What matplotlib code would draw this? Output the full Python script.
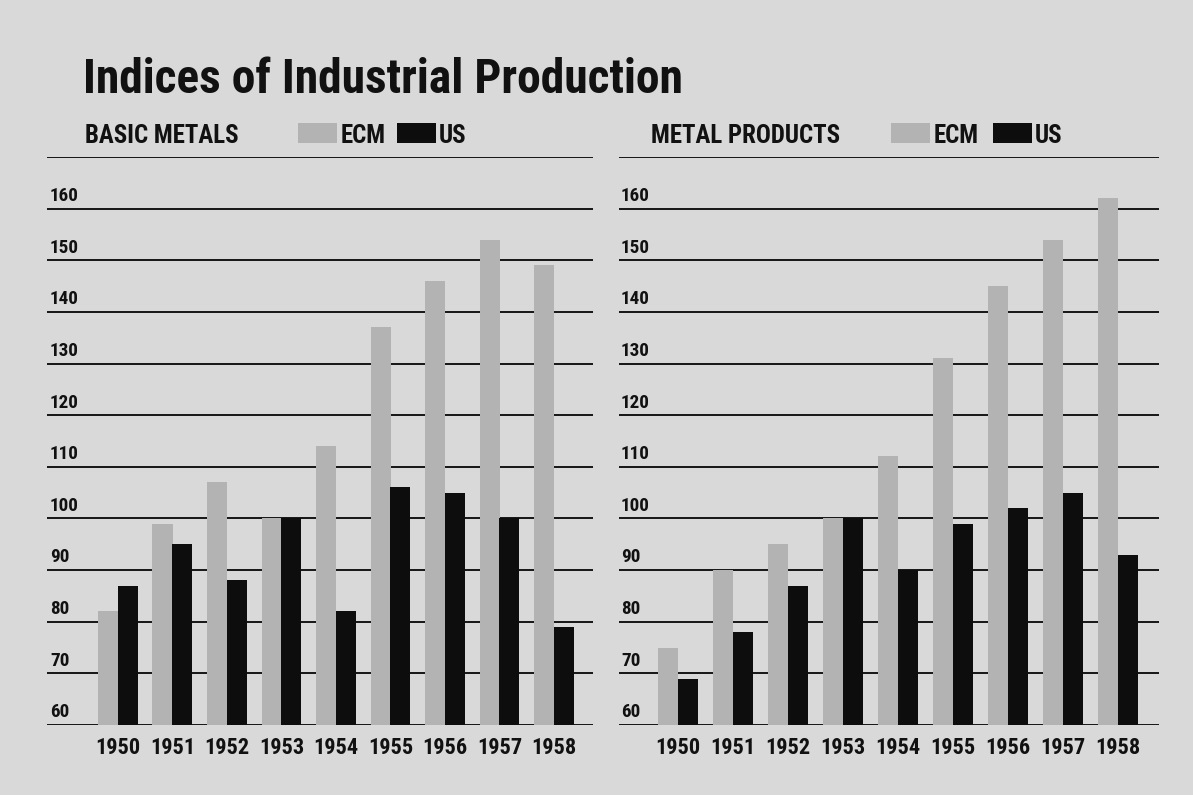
import matplotlib
matplotlib.use("Agg")
import matplotlib.pyplot as plt
from matplotlib import font_manager as fm
from matplotlib.patches import Rectangle

# --- data ---
years = ["1950", "1951", "1952", "1953", "1954", "1955", "1956", "1957", "1958"]
basic_ecm = [82, 99, 107, 100, 114, 137, 146, 154, 149]
basic_us = [87, 95, 88, 100, 82, 106, 105, 100, 79]
prod_ecm = [75, 90, 95, 100, 112, 131, 145, 154, 162]
prod_us = [69, 78, 87, 100, 90, 99, 102, 105, 93]
grid_levels = list(range(60, 171, 10))
label_levels = list(range(60, 161, 10))

W, H = 1193, 795
BG = "#d9d9d9"
ECM_C = "#b3b3b3"
US_C = "#0d0d0d"
INK = "#111111"


# the original lettering is a tall condensed face; take the narrowest one we have
def pick_font():
    names = {f.name for f in fm.fontManager.ttflist}
    for n in ["Liberation Sans Narrow", "Roboto Condensed", "Open Sans Condensed",
              "Noto Sans Condensed", "DejaVu Sans Condensed"]:
        if n in names:
            return n, "normal"
    for n in sorted(names):
        if "Condensed" in n or "Narrow" in n:
            return n, "normal"
    for f in fm.fontManager.ttflist:
        if f.stretch in ("condensed", "semi-condensed", "extra-condensed"):
            return f.name, "condensed"
    return "DejaVu Sans", "normal"


FAM, STRETCH = pick_font()
FONT = [FAM, "DejaVu Sans"]

fig = plt.figure(figsize=(W / 100, H / 100), dpi=100, facecolor=BG)
renderer = fig.canvas.get_renderer()


def fit_size(s, target_w, weight="bold", start=20):
    t = fig.text(0, 0, s, family=FONT, fontstretch=STRETCH, fontsize=start,
                 fontweight=weight)
    w = t.get_window_extent(renderer).width
    t.remove()
    return start * target_w / w


def fx(x):
    return x / W


def fy(y):
    return 1 - y / H


YEAR_FS = min(fit_size("1950", 45), 20)
VAL_FS = min(fit_size("160", 29), 18)
HEAD_FS = fit_size("BASIC METALS", 154)
TITLE_FS = fit_size("Indices of Industrial Production", 600)


def panel(x0, x1, xlim, ecm, us, label_x):
    ax = fig.add_axes([fx(x0), fy(725), fx(x1 - x0), (725 - 157) / H])
    ax.set_facecolor("none")
    for v in grid_levels:
        ax.axhline(v, color="#151515", lw=1.4, zorder=1)
    xs = range(len(years))
    ax.bar([i - 0.18 for i in xs], [v - 60 for v in ecm], bottom=60,
           width=0.37, color=ECM_C, zorder=2)
    ax.bar([i + 0.18 for i in xs], [v - 60 for v in us], bottom=60,
           width=0.37, color=US_C, zorder=3)
    ax.set_xlim(*xlim)
    ax.set_ylim(60, 170)
    for s in ax.spines.values():
        s.set_visible(False)
    ax.set_yticks([])
    ax.set_xticks(list(xs))
    ax.set_xticklabels(years, family=FONT, fontstretch=STRETCH,
                       fontsize=YEAR_FS, fontweight="bold", color=INK)
    ax.tick_params(axis="x", length=0, pad=9)
    for v in label_levels:
        ax.text((label_x - x0) / (x1 - x0), v + 0.7, str(v),
                transform=ax.get_yaxis_transform(), ha="left", va="bottom",
                family=FONT, fontstretch=STRETCH, fontsize=VAL_FS,
                fontweight="bold", color=INK, zorder=4)
    return ax


panel(47, 593, (-1.30, 8.716), basic_ecm, basic_us, 50)
panel(619, 1159, (-1.07, 8.745), prod_ecm, prod_us, 621)

# title
fig.text(fx(83), fy(93), "Indices of Industrial Production", family=FONT,
         fontstretch=STRETCH, fontsize=TITLE_FS, fontweight="bold",
         ha="left", va="baseline", color=INK)


def header(x, name, ecm_x, us_x):
    fig.text(fx(x), fy(143), name, family=FONT, fontstretch=STRETCH,
             fontsize=HEAD_FS, fontweight="bold", ha="left", va="baseline",
             color=INK)
    fig.add_artist(Rectangle((fx(ecm_x), fy(143)), fx(39), 20 / H,
                             transform=fig.transFigure, color=ECM_C, lw=0))
    fig.text(fx(ecm_x + 43), fy(143), "ECM", family=FONT, fontstretch=STRETCH,
             fontsize=HEAD_FS, fontweight="bold", ha="left", va="baseline",
             color=INK)
    fig.add_artist(Rectangle((fx(us_x), fy(143)), fx(39), 20 / H,
                             transform=fig.transFigure, color=US_C, lw=0))
    fig.text(fx(us_x + 42), fy(143), "US", family=FONT, fontstretch=STRETCH,
             fontsize=HEAD_FS, fontweight="bold", ha="left", va="baseline",
             color=INK)


header(85, "BASIC METALS", 298, 397)
header(651, "METAL PRODUCTS", 891, 993)

fig.savefig("out.png", dpi=100, facecolor=BG)
